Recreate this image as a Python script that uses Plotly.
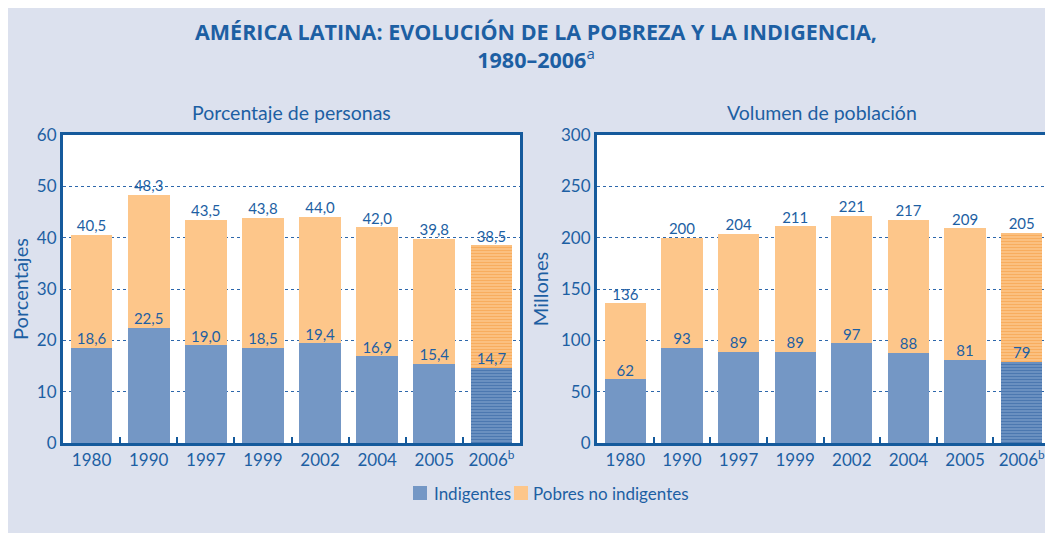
import plotly.graph_objects as go
from plotly.subplots import make_subplots

# ─────────────────────────────────────────────
# 数据
# ─────────────────────────────────────────────
years = ["1980", "1990", "1997", "1999", "2002", "2004", "2005", "2006<sup>b</sup>"]

pct_total = [40.5, 48.3, 43.5, 43.8, 44.0, 42.0, 39.8, 38.5]
pct_indig = [18.6, 22.5, 19.0, 18.5, 19.4, 16.9, 15.4, 14.7]

mill_total = [136, 200, 204, 211, 221, 217, 209, 205]
mill_indig = [62, 93, 89, 89, 97, 88, 81, 79]

# 最后一年（2006）为预测值，用横条纹表示
patterns = ["", "", "", "", "", "", "", "-"]

BG = "#dce1ee"
INK = "#1d5fa3"
FRAME = "#155a9c"
BLUE = "#7497c5"
ORANGE = "#fdc68a"
FONT = "Lato, Liberation Sans, sans-serif"
TITLE_FONT = "Open Sans, Lato, sans-serif"

# 页面 body 自带 8px 边距，坐标按参考图减 8 换算
W, H = 1044, 525


def px(x):
    return (x - 8) / W


def py(y):
    return 1 - (y - 8) / H


def fmt_pct(v):
    return f"{v:.1f}".replace(".", ",")


fig = make_subplots(rows=1, cols=2)

panels = [
    (1, pct_total, pct_indig, fmt_pct),
    (2, mill_total, mill_indig, lambda v: f"{v:d}"),
]

for col, total, indig, fmt in panels:
    rest = [t - i for t, i in zip(total, indig)]
    fig.add_trace(go.Bar(
        x=years, y=indig, name="Indigentes",
        marker=dict(color=BLUE, line=dict(width=0),
                    pattern=dict(shape=patterns, fgcolor="#245a9c", size=3, solidity=0.5)),
        showlegend=False,
    ), row=1, col=col)
    fig.add_trace(go.Bar(
        x=years, y=rest, name="Pobres no indigentes",
        marker=dict(color=ORANGE, line=dict(width=0),
                    pattern=dict(shape=patterns, fgcolor="#f39431", size=3, solidity=0.5)),
        showlegend=False,
    ), row=1, col=col)
    # 数值标注
    for vals in (indig, total):
        fig.add_trace(go.Scatter(
            x=years, y=vals, mode="text", text=[fmt(v) for v in vals],
            textposition="top center", textfont=dict(size=15, color=INK, family=FONT),
            showlegend=False, hoverinfo="skip", cliponaxis=False,
        ), row=1, col=col)

axis_common = dict(showline=True, linecolor=FRAME, linewidth=3, mirror=True,
                   automargin=False, tickfont=dict(size=17, color=INK, family=FONT))

fig.update_xaxes(**axis_common, ticks="inside", tickson="boundaries", ticklen=6,
                 tickwidth=2, tickcolor=FRAME, showgrid=False)
fig.update_xaxes(domain=[px(63), px(520)], row=1, col=1)
fig.update_xaxes(domain=[px(597), px(1050)], row=1, col=2)

fig.update_yaxes(**axis_common, showgrid=True, gridcolor="#2d67ab", griddash="dot",
                 gridwidth=1.3, zeroline=False, ticks="", domain=[py(443), py(135)])
fig.update_yaxes(range=[0, 60], dtick=10, row=1, col=1,
                 title=dict(text="Porcentajes", font=dict(size=20, color=INK, family=FONT), standoff=9))
fig.update_yaxes(range=[0, 300], dtick=50, row=1, col=2,
                 title=dict(text="Millones", font=dict(size=20, color=INK, family=FONT), standoff=8))

annotations = [
    dict(text="<b>AMÉRICA LATINA: EVOLUCIÓN DE LA POBREZA Y LA INDIGENCIA,<br>1980–2006</b><sup>a</sup>",
         x=px(536), y=py(45), font=dict(size=21.5, color=INK, family=TITLE_FONT)),
    dict(text="Porcentaje de personas",
         x=px(291), y=py(112), font=dict(size=19.5, color=INK, family=FONT)),
    dict(text="Volumen de población",
         x=px(822), y=py(112), font=dict(size=19.5, color=INK, family=FONT)),
    # 图例文字
    dict(text="Indigentes", x=px(432), y=py(493), xanchor="left",
         font=dict(size=17, color=INK, family=FONT)),
    dict(text="Pobres no indigentes", x=px(531), y=py(493), xanchor="left",
         font=dict(size=17, color=INK, family=FONT)),
]
for a in annotations:
    a.update(xref="paper", yref="paper", showarrow=False)
    a.setdefault("xanchor", "center")
    a.setdefault("yanchor", "middle")

# 图例色块
legend_keys = [
    dict(type="rect", xref="paper", yref="paper", x0=px(413), x1=px(427),
         y0=py(500), y1=py(486), fillcolor=BLUE, line=dict(width=0)),
    dict(type="rect", xref="paper", yref="paper", x0=px(514), x1=px(528),
         y0=py(500), y1=py(486), fillcolor=ORANGE, line=dict(width=0)),
]

fig.update_layout(
    width=W, height=H,
    barmode="stack", bargap=0.27,
    paper_bgcolor=BG, plot_bgcolor="white",
    margin=dict(l=0, r=0, t=0, b=0),
    font=dict(family=FONT, color=INK),
    showlegend=False,
    shapes=legend_keys,
    annotations=annotations,
)

fig.write_html("out.html")
